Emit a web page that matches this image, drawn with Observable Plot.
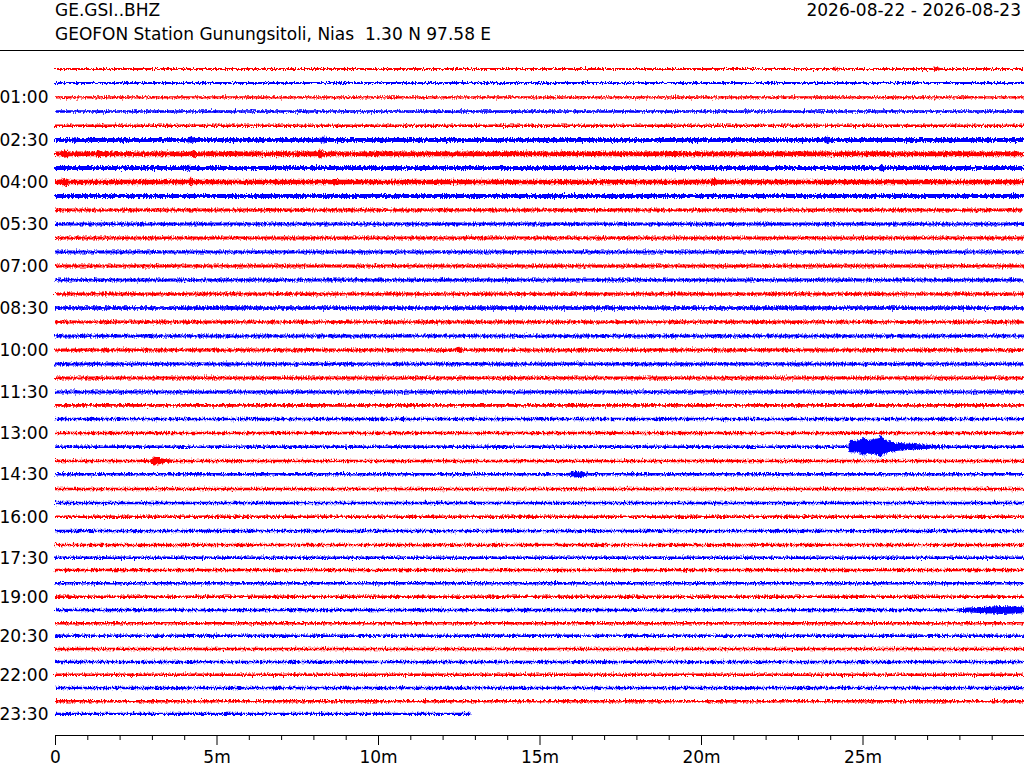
<!DOCTYPE html>
<html>
<head>
<meta charset="utf-8">
<script src="https://cdn.jsdelivr.net/npm/d3@7"></script>
<script src="https://cdn.jsdelivr.net/npm/@observablehq/plot@0.6"></script>
<style>
  html, body { margin: 0; padding: 0; background: #fff; }
  body { width: 1024px; height: 768px; overflow: hidden; font-family: "DejaVu Sans", sans-serif; }
  #head { position: relative; height: 50px; border-bottom: 1px solid #000; font-size: 17px; color: #000; }
  #head span { position: absolute; line-height: 17px; white-space: pre; }
</style>
</head>
<body>
<div id="head">
  <span id="t1" style="left:55px; top:2px;"></span>
  <span id="t2" style="left:55px; top:26px;"></span>
  <span id="t3" style="right:3px; top:2px;"></span>
</div>
<div id="chart"></div>
<script>
// ---- text ----
const stationCode = "GE.GSI..BHZ";
const stationName = "GEOFON Station Gunungsitoli, Nias  1.30 N 97.58 E";
const dateRange = "2026-08-22 - 2026-08-23";

// ---- axes ----
const xMajorTicks = [0, 5, 10, 15, 20, 25];
const xMajorLabels = ["0", "5m", "10m", "15m", "20m", "25m"];
const xMinorTicks = [1,2,3,4,6,7,8,9,11,12,13,14,16,17,18,19,21,22,23,24,26,27,28,29];
const yTickRows = [2, 5, 8, 11, 14, 17, 20, 23, 26, 29, 32, 35, 38, 41, 44, 47];
const yTickLabels = ["01:00","02:30","04:00","05:30","07:00","08:30","10:00","11:30",
                     "13:00","14:30","16:00","17:30","19:00","20:30","22:00","23:30"];
const rowColors = ["#ff0000", "#0000ff"];
const lastRowEnd = 12.86; // minutes of data in the last (23:30) line

// ---- per-line noise level (half-width of trace envelope, in line-spacing units) ----
const baseAmp = [
  0.08,0.08,0.08,0.09,0.09,0.15,0.17,0.15,0.16,0.14,
  0.11,0.11,0.11,0.10,0.11,0.11,0.11,0.12,0.11,0.11,
  0.11,0.10,0.10,0.10,0.10,0.09,0.09,0.09,0.09,0.09,
  0.09,0.09,0.09,0.09,0.09,0.09,0.09,0.09,0.09,0.09,
  0.09,0.09,0.09,0.09,0.09,0.09,0.09,0.08
];
// ---- per-line signal mean (drift), in line-spacing units, positive = up ----
const rowMean = [
  0.00,0.00,-0.02,-0.04,-0.05,-0.07,-0.07,-0.07,-0.07,-0.07,
  -0.07,-0.07,-0.07,-0.07,-0.07,-0.07,-0.07,-0.07,-0.07,-0.07,
  -0.07,-0.07,-0.07,-0.07,-0.02,0.00,0.00,0.02,0.00,0.05,
  0.00,0.00,0.02,0.00,0.00,0.09,0.21,0.26,0.31,0.36,
  0.41,0.52,0.57,0.64,0.74,0.79,0.84,0.93
];
// ---- bursts / events: [line, [[minute, amplitude], ...]] ----
const bursts = [
  [0, [[24.1,0.08],[24.2,0.15],[24.3,0.08]]],
  [0, [[27.2,0.08],[27.3,0.16],[27.4,0.08]]],
  [5, [[0.5,0.15],[0.6,0.22],[0.7,0.15]]],
  [5, [[4.1,0.15],[4.2,0.24],[4.3,0.15]]],
  [5, [[8.2,0.15],[8.3,0.25],[8.4,0.15]]],
  [5, [[23.8,0.15],[23.9,0.25],[24.0,0.15]]],
  [6, [[0.2,0.17],[0.3,0.27],[0.45,0.17]]],
  [6, [[1.28,0.17],[1.35,0.29],[1.42,0.17]]],
  [6, [[4.2,0.17],[4.3,0.29],[4.4,0.17]]],
  [6, [[8.1,0.17],[8.2,0.33],[8.3,0.17]]],
  [7, [[4.1,0.15],[4.15,0.24],[4.2,0.15]]],
  [7, [[25.5,0.15],[25.6,0.26],[25.7,0.15]]],
  [8, [[0.15,0.16],[0.3,0.29],[0.45,0.16]]],
  [8, [[4.15,0.16],[4.2,0.40],[4.25,0.16]]],
  [8, [[8.6,0.16],[8.7,0.27],[8.8,0.16]]],
  [8, [[20.3,0.16],[20.4,0.29],[20.5,0.16]]],
  [20, [[12.4,0.11],[12.5,0.23],[12.6,0.11]]],
  [27, [[13.35,0.09],[13.4,0.17],[13.45,0.09]]],
  [27, [[24.56,0.09],[24.6,0.40],[24.8,0.42],[24.95,0.5],[25.04,0.70],[25.12,0.48],[25.3,0.52],
        [25.5,0.6],[25.57,0.90],[25.64,0.55],[25.9,0.36],[26.1,0.28],[26.6,0.19],[27.1,0.14],[27.8,0.09]]],
  [28, [[2.95,0.09],[3.05,0.32],[3.15,0.26],[3.4,0.14],[3.7,0.09]]],
  [29, [[15.9,0.09],[16.1,0.22],[16.3,0.20],[16.5,0.09]]],
  [39, [[27.9,0.09],[28.3,0.18],[29.0,0.25],[29.3,0.29],[30,0.23]]]
];

document.getElementById("t1").textContent = stationCode;
document.getElementById("t2").textContent = stationName;
document.getElementById("t3").textContent = dateRange;

// build envelope table
const env = [];
for (let r = 0; r < baseAmp.length; r++) {
  const end = r === baseAmp.length - 1 ? lastRowEnd : 30;
  const m = new Map([[0, baseAmp[r]], [end, baseAmp[r]]]);
  for (const [row, pts] of bursts) if (row === r) for (const [t, a] of pts) m.set(t, a);
  const pts = [...m.entries()].sort((a, b) => a[0] - b[0]);
  for (const [t, a] of pts) env.push({row: r, t, amp: a, mean: rowMean[r], color: rowColors[r % 2]});
}
const labels = yTickRows.map((r, i) => ({row: r, label: yTickLabels[i], mean: rowMean[r]}));

const W = 1024, H = 717;
const plot = Plot.plot({
  width: W, height: H,
  marginLeft: 55, marginRight: 0, marginTop: 0, marginBottom: 33,
  style: {fontFamily: "DejaVu Sans", fontSize: "17px", color: "#000", background: "#fff"},
  x: {domain: [0, 30], axis: null},
  y: {domain: [-18/14, 666/14], reverse: true, axis: null},
  marks: [
    Plot.areaY(env, {
      x: "t",
      y1: d => d.row - d.mean - d.amp,
      y2: d => d.row - d.mean + d.amp,
      z: "row", fill: "color", curve: "linear"
    }),
    Plot.frame({anchor: "bottom", stroke: "#000", strokeWidth: 1}),
    Plot.axisX({ticks: xMajorTicks, tickSize: 10, tickPadding: 5,
                tickFormat: d => xMajorLabels[xMajorTicks.indexOf(d)], label: null,
                fontSize: 17, stroke: "#000"}),
    Plot.axisX({ticks: xMinorTicks, tickSize: 5, tickFormat: () => "", label: null, stroke: "#000"}),
    Plot.text(labels, {y: d => d.row - d.mean, text: "label", frameAnchor: "left",
                       textAnchor: "end", dx: -7, fontSize: 17, fill: "#000"})
  ]
});

// seismogram-like texture for the trace envelopes (rendering style only)
const NS = "http://www.w3.org/2000/svg";
const defs = document.createElementNS(NS, "defs");
defs.innerHTML = `<filter id="jit" filterUnits="userSpaceOnUse" x="0" y="0" width="${W}" height="${H}">
  <feTurbulence type="fractalNoise" baseFrequency="0.9 0.35" numOctaves="2" seed="7" result="n"/>
  <feDisplacementMap in="SourceGraphic" in2="n" scale="5" xChannelSelector="B" yChannelSelector="R"/>
</filter>`;
plot.insertBefore(defs, plot.firstChild);
const areaG = plot.querySelector('g[aria-label="area"]');
if (areaG) areaG.setAttribute("filter", "url(#jit)");
document.getElementById("chart").appendChild(plot);
</script>
</body>
</html>
